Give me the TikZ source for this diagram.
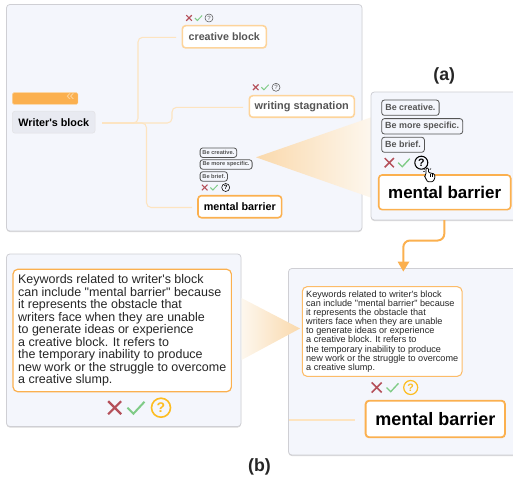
\documentclass[tikz,border=0pt]{standalone}
\usepackage{fontspec}
\setmainfont[Ligatures=TeXOff]{Liberation Sans}
\usetikzlibrary{shadows,arrows.meta}
\definecolor{panelfill}{HTML}{F4F6FC}
\definecolor{panelline}{HTML}{CFCFD4}
\definecolor{orA}{HTML}{FBB04F}
\definecolor{orB}{HTML}{FDD49B}
\definecolor{conn}{HTML}{FDE4C0}
\definecolor{redx}{HTML}{B5505A}
\definecolor{grn}{HTML}{7FCB86}
\definecolor{gry}{HTML}{555555}
\definecolor{yel}{HTML}{FDBD21}
\definecolor{wbfill}{HTML}{E8EAF1}
\definecolor{conedeep}{HTML}{FAD9AC}
\definecolor{conepale}{HTML}{FDF7EE}
\newcommand\fs[2]{\fontsize{#1pt}{#2pt}\selectfont}
\newcommand\crossic[4]{\draw[redx,line width=#4pt] (#1-#3,#2-#3) -- (#1+#3,#2+#3) (#1-#3,#2+#3) -- (#1+#3,#2-#3);}
\newcommand\checkic[4]{\draw[grn,line width=#4pt] (#1-#3,#2) -- (#1-0.3*#3,#2+0.7*#3) -- (#1+#3,#2-0.7*#3);}
\tikzset{
  panel/.style={draw=panelline,fill=panelfill,line width=.6pt,rounded corners=2.5pt,
    drop shadow={shadow xshift=0pt,shadow yshift=-.8pt,opacity=.3}},
  term/.style={draw=orA,fill=white,line width=1.2pt,rounded corners=2.6pt,font=\bfseries,inner sep=0pt,text=black},
  faded/.style={term,draw=orB,text=gry},
  chip/.style={draw=gry,fill=panelfill,line width=.6pt,rounded corners=2pt,inner sep=0pt,text=gry,font=\bfseries,anchor=west},
  para/.style={draw=orA,fill=white,line width=.9pt,rounded corners=3.5pt,inner sep=0pt,align=left,text=black!85},
  qm/.style={circle,draw,inner sep=0pt,font=\bfseries},
  cn/.style={conn,line width=.8pt,rounded corners=3.5pt},
  figlabel/.style={font=\bfseries,text=black!85,inner sep=0pt}
}
\begin{document}
\begin{tikzpicture}[x=.75pt,y=-.75pt]
\useasboundingbox (0,0) rectangle (513,481);
% main panel
\path[panel] (6.5,4.5) rectangle (362,231);
\node[minimum width=65.5*.75pt,minimum height=11.6*.75pt,fill=orA,rounded corners=1pt,inner sep=0pt,
  draw=orB,line width=.3pt] (bar) at (45.2,98.5) {};
\node[inner sep=0pt,text=orB,font=\fs{11}{11}] (chev) at (70.5,97.5) {«};
\node[minimum width=82.7*.75pt,minimum height=22*.75pt,fill=wbfill,draw=panelline!60,rounded corners=2pt,
  inner sep=0pt,font=\bfseries\fs{8.1}{10}] (wb) at (53.7,122.2) {Writer's block};
\node[faded,minimum width=84*.75pt,minimum height=22.3*.75pt,font=\bfseries\fs{8}{10}] (cb) at (224.3,36.8) {creative block};
\node[faded,minimum width=105*.75pt,minimum height=21.6*.75pt,font=\bfseries\fs{8.2}{10}] (ws) at (301.8,106.5) {writing stagnation};
\node[term,minimum width=83.7*.75pt,minimum height=22*.75pt,font=\bfseries\fs{8.1}{10}] (mb) at (239.8,206.7) {mental barrier};
\coordinate (wbout) at (102,123);
\coordinate (cbin) at (176,37.3);
\coordinate (wsin) at (243,107.3);
\coordinate (mbin) at (192,207.5);
\draw[cn] (wbout) -- (138,123) -- (138,37.3) -- (cbin);
\draw[cn] (wbout) -- (172,123) -- (172,107.3) -- (wsin);
\draw[cn] (wbout) -- (146.5,123) -- (146.5,207.5) -- (mbin);
% icons main panel
\crossic{189}{18}{2.8}{.8}\checkic{198.5}{18}{3.6}{.7}
\node[qm,draw=gry,text=gry,minimum size=8*.75pt,font=\fs{4.6}{5}] (q1) at (209,18) {?};
\crossic{255.7}{87.3}{2.8}{.8}\checkic{265}{87.3}{3.6}{.7}
\node[qm,draw=gry,text=gry,minimum size=8*.75pt,font=\fs{4.6}{5}] (q2) at (276,87.3) {?};
\crossic{204.7}{187.5}{2.8}{.8}\checkic{214}{187.5}{3.6}{.7}
\node[qm,draw=black,minimum size=8*.75pt,font=\bfseries\fs{4.6}{5}] (q3) at (225.7,187.5) {?};
% small chips
\node[chip,minimum width=36.6*.75pt,minimum height=9.5*.75pt,font=\bfseries\fs{4.25}{5}] (c1) at (199.7,152.7) {Be creative.};
\node[chip,minimum width=52*.75pt,minimum height=9.5*.75pt,font=\bfseries\fs{4.25}{5}] (c2) at (199.7,164.5) {Be more specific.};
\node[chip,minimum width=27.3*.75pt,minimum height=9.5*.75pt,font=\bfseries\fs{4.25}{5}] (c3) at (199.7,176.5) {Be brief.};
% cone to (a)
\shade[left color=conedeep,right color=conepale] (256,157.3) -- (372,117) -- (372,198) -- cycle;
% panel (a)
\path[panel] (371,92) rectangle (520,220);
\node[figlabel,font=\bfseries\fs{13.3}{15}] (la) at (444.3,76) {(a)};
\node[chip,minimum width=57.4*.75pt,minimum height=15.3*.75pt,font=\bfseries\fs{6.7}{8}] (d1) at (381.3,107.7) {Be creative.};
\node[chip,minimum width=81*.75pt,minimum height=15.3*.75pt,font=\bfseries\fs{6.7}{8}] (d2) at (381.3,126.3) {Be more specific.};
\node[chip,minimum width=42.7*.75pt,minimum height=15*.75pt,font=\bfseries\fs{6.7}{8}] (d3) at (381.3,144.8) {Be brief.};
\crossic{389.3}{162.7}{4.6}{1.1}\checkic{404}{162.7}{5.8}{1}
\node[qm,draw=black,line width=.8pt,minimum size=13*.75pt,font=\bfseries\fs{8}{9}] (q4) at (421.3,162.7) {?};
\node[term,minimum width=132*.75pt,minimum height=34.7*.75pt,font=\bfseries\fs{12.7}{15}] (mb2) at (444.7,192.3) {mental barrier};
% hand cursor
\draw[fill=white,draw=black,line width=.6pt,rounded corners=.8pt]
  (424.5,176) -- (426,174.5) -- (426,168) -- (428.4,168) -- (428.4,172.5) -- (434.5,174) -- (435,178) -- (432.8,181.8) -- (427.5,181.8) -- cycle;
\draw[black,line width=.45pt] (430.3,173.5) -- (430.3,176.5) (432.3,174) -- (432.3,176.5);
\draw[black,line width=.4pt] (423.6,168.5) -- (424.8,169.5) (431,168.5) -- (429.8,169.7) (423.2,171.3) -- (424.8,171.3);
% arrow a -> b
\coordinate (arrstart) at (444.3,220);
\coordinate (arrend) at (403.3,271.5);
\draw[orA,line width=1.5pt,rounded corners=5pt] (arrstart) -- (444.3,240.5) -- (403.3,240.5) -- (403.3,263);
% right panel (b)
\path[panel] (288.5,268.5) rectangle (520,455);
\fill[orA] (397.5,261.5) -- (409.5,261.5) -- (arrend) -- cycle;
\coordinate (lstart) at (289,420);
\coordinate (lend) at (355,420);
\draw[conn,line width=.8pt] (lstart) -- (lend);
% left panel (b)
\path[panel] (6.5,254) rectangle (241,426.5);
\shade[left color=conepale,right color=conedeep] (241.5,298) -- (300,328.5) -- (241.5,360) -- cycle;
\node[para,minimum width=218.3*.75pt,minimum height=122.4*.75pt,font=\fs{9.36}{9.38}] (tl) at (122.2,330.5)
 {Keywords related to writer's block\\can include "mental barrier" because\\it represents the obstacle that\\writers face when they are unable\\to generate ideas or experience\\a creative block. It refers to\\the temporary inability to produce\\new work or the struggle to overcome\\a creative slump.};
\crossic{114.7}{407.7}{6.5}{1.6}\checkic{136}{407.7}{8.5}{1.5}
\node[qm,draw=yel,text=yel,line width=1.2pt,minimum size=19*.75pt,font=\bfseries\fs{10.5}{12}] (q5) at (161,407.7) {?};
\node[para,line width=.8pt,draw=orA!85!white,minimum width=159.7*.75pt,minimum height=89.6*.75pt,font=\fs{6.84}{6.83}] (tr) at (382.2,331.5)
 {Keywords related to writer's block\\can include "mental barrier" because\\it represents the obstacle that\\writers face when they are unable\\to generate ideas or experience\\a creative block. It refers to\\the temporary inability to produce\\new work or the struggle to overcome\\a creative slump.};
\crossic{376.7}{387.5}{5}{1.2}\checkic{392.5}{387.5}{6}{1}
\node[qm,draw=yel,text=yel,line width=.9pt,minimum size=14*.75pt,font=\bfseries\fs{8}{9}] (q6) at (410.7,387.5) {?};
\node[term,line width=1.4pt,minimum width=139.3*.75pt,minimum height=36.6*.75pt,font=\bfseries\fs{13.5}{15}] (mb3) at (435.3,419) {mental barrier};
\node[figlabel,font=\bfseries\fs{13.3}{15}] (lb) at (259.5,466.5) {(b)};
\end{tikzpicture}
\end{document}
